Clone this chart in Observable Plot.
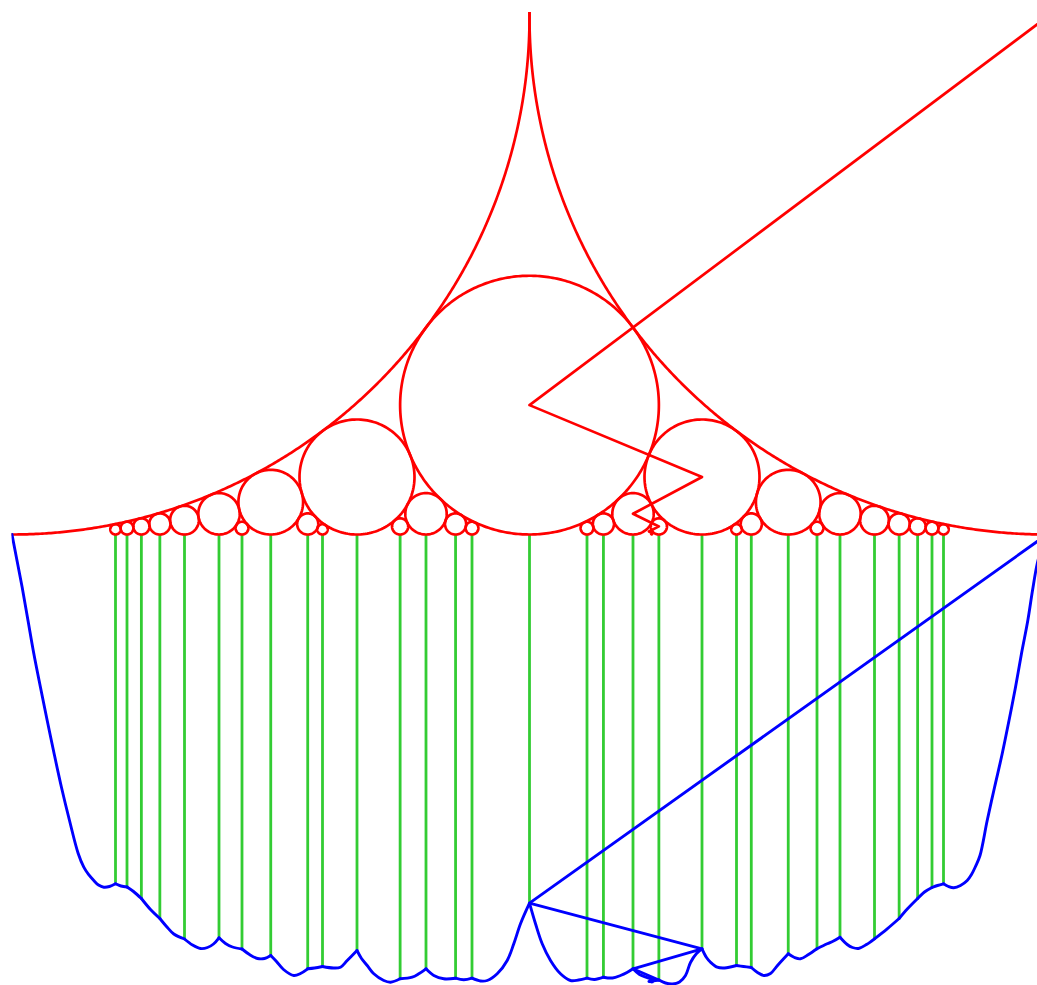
<!DOCTYPE html>
<html>
<head>
<meta charset="utf-8">
<script src="https://cdn.jsdelivr.net/npm/d3@7"></script>
<script src="https://cdn.jsdelivr.net/npm/@observablehq/plot@0.6"></script>
<style>
  html, body { margin: 0; padding: 0; background: white; overflow: hidden; }
  #chart svg { display: block; }
</style>
</head>
<body>
<div id="chart"></div>
<script>
// Ford circles: fractions p/q (Farey sequence of order 10)
const circleP = [0,1,1,1,1,1,1,2,1,2,3,1,3,2,3,4,1,5,4,3,5,2,7,5,3,7,4,5,6,7,8,9,1];
const circleQ = [1,10,9,8,7,6,5,9,4,7,10,3,8,5,7,9,2,9,7,5,8,3,10,7,4,9,5,6,7,8,9,10,1];

// green drop lines: interior fractions and the depth of the blue curve below them
const greenP = [1,1,1,1,1,1,2,1,2,3,1,3,2,3,4,1,5,4,3,5,2,7,5,3,7,4,5,6,7,8,9];
const greenQ = [10,9,8,7,6,5,9,4,7,10,3,8,5,7,9,2,9,7,5,8,3,10,7,4,9,5,6,7,8,9,10];
const greenDepth = [-0.337,-0.341,-0.352,-0.371,-0.391,-0.390,-0.400,-0.407,-0.420,-0.417,
  -0.402,-0.429,-0.420,-0.429,-0.429,-0.356,-0.429,-0.428,-0.420,-0.430,-0.400,-0.416,
  -0.418,-0.405,-0.400,-0.389,-0.391,-0.371,-0.352,-0.341,-0.337];

// convergents of the golden ratio conjugate (zigzag paths)
const zigP = [1,1,2,3,5,8,13,21,34,55];
const zigQ = [1,2,3,5,8,13,21,34,55,89];
const zigBlue = [0,-0.3562,-0.4003,-0.4196,-0.4304,-0.4319,-0.4322,-0.4323,-0.4323,-0.4323];

// blue curve
const blueX = [0,0.00483,0.00986,0.01546,0.02106,0.02754,0.03401,0.04087,0.04783,0.05556,
  0.06396,0.06937,0.07391,0.07903,0.08357,0.0887,0.0942,0.1,0.10531,0.11111,
  0.11739,0.125,0.13382,0.14286,0.14928,0.15633,0.16667,0.1744,0.18213,0.18889,
  0.19469,0.2,0.20628,0.21304,0.22222,0.22947,0.2372,0.24396,0.25,0.25556,
  0.26232,0.27227,0.27874,0.28571,0.29227,0.3,0.31063,0.31739,0.32386,0.33333,
  0.33768,0.34319,0.34957,0.35923,0.3657,0.375,0.38667,0.39304,0.4,0.40754,
  0.4172,0.42857,0.43652,0.44444,0.45266,0.45913,0.46879,0.47845,0.48483,0.4913,
  0.5,0.5058,0.51227,0.52029,0.52995,0.53961,0.54734,0.55556,0.5628,0.57143,
  0.58019,0.58792,0.5942,0.6,0.60628,0.61372,0.61884,0.625,0.6314,0.63816,
  0.64493,0.65072,0.65556,0.66135,0.66667,0.67101,0.67488,0.68135,0.68841,0.7,
  0.70676,0.71429,0.72029,0.72638,0.73285,0.73961,0.75,0.75604,0.76184,0.76957,
  0.77778,0.78763,0.79372,0.8,0.80696,0.81208,0.81787,0.8256,0.83333,0.8456,
  0.85714,0.86522,0.875,0.88164,0.88889,0.8942,0.9,0.90483,0.90995,0.91643,
  0.9229,0.92705,0.93092,0.93527,0.94222,0.94928,0.95671,0.96329,0.96957,0.97536,
  0.98145,0.98599,0.99053,0.99469,1];
const blueY = [0,-0.02512,-0.05121,-0.08309,-0.11498,-0.14783,-0.17971,-0.21256,-0.24444,-0.27633,
  -0.30821,-0.32145,-0.3285,-0.3343,-0.33865,-0.34077,-0.3401,-0.33749,-0.33961,-0.34058,
  -0.34493,-0.35169,-0.36232,-0.37101,-0.37874,-0.38599,-0.39082,-0.39662,-0.4,-0.39903,
  -0.39565,-0.38966,-0.39517,-0.39855,-0.40048,-0.4058,-0.40966,-0.40966,-0.40676,-0.41256,
  -0.42029,-0.42609,-0.42415,-0.41961,-0.41884,-0.41739,-0.41884,-0.41807,-0.41159,-0.40193,
  -0.40966,-0.41643,-0.42444,-0.43092,-0.43256,-0.42928,-0.42773,-0.42444,-0.41961,-0.42609,
  -0.42928,-0.4287,-0.43024,-0.4287,-0.4314,-0.43092,-0.42444,-0.41159,-0.39546,-0.37614,
  -0.35623,-0.37614,-0.39546,-0.41159,-0.42444,-0.43092,-0.43043,-0.4287,-0.42995,-0.42773,
  -0.4285,-0.42609,-0.42319,-0.41961,-0.42512,-0.42802,-0.42947,-0.43043,-0.43333,-0.4343,
  -0.43237,-0.42609,-0.41353,-0.40483,-0.40029,-0.4087,-0.41324,-0.41807,-0.41884,-0.41643,
  -0.41739,-0.41836,-0.42319,-0.42609,-0.42415,-0.41643,-0.40512,-0.4087,-0.40995,-0.4058,
  -0.40029,-0.39546,-0.39275,-0.38908,-0.39614,-0.39903,-0.4,-0.39614,-0.39063,-0.38097,
  -0.37101,-0.36164,-0.35169,-0.34541,-0.34106,-0.33913,-0.33749,-0.3401,-0.34135,-0.33913,
  -0.3343,-0.3285,-0.32077,-0.31014,-0.27633,-0.24444,-0.21188,-0.17971,-0.14754,-0.11498,
  -0.08309,-0.05411,-0.02831,-0.01353,0];

// ---- build mark data from the arrays ----
const circlePts = [];
circleP.forEach((p, i) => {
  const q = circleQ[i];
  const cx = p / q, r = 1 / (2 * q * q), cy = r;
  const n = Math.max(96, Math.ceil(3000 * r));
  for (let k = 0; k <= n; k++) {
    const t = (2 * Math.PI * k) / n;
    circlePts.push({id: i, x: cx + r * Math.cos(t), y: cy + r * Math.sin(t)});
  }
});
const greens = greenP.map((p, i) => ({x: p / greenQ[i], y1: 0, y2: greenDepth[i]}));
const redZig = zigP.map((p, i) => ({x: p / zigQ[i], y: 1 / (2 * zigQ[i] * zigQ[i])}));
const blueZig = zigP.map((p, i) => ({x: p / zigQ[i], y: zigBlue[i]}));

// split the blue curve into smooth pieces at the rational points (cusps)
const cuspXs = greenP.map((p, i) => p / greenQ[i]);
const isCusp = (x) => cuspXs.some((c) => Math.abs(c - x) < 2e-4);
const blueCurve = [];
let seg = 0;
blueX.forEach((x, i) => {
  blueCurve.push({seg, x, y: blueY[i]});
  if (isCusp(x)) { seg++; blueCurve.push({seg, x, y: blueY[i]}); }
});

const chart = Plot.plot({
  width: 1037,
  height: 985,
  marginLeft: 11.5,
  marginRight: 0,
  marginTop: 12,
  marginBottom: 0,
  x: {domain: [0, 1], range: [11.5, 1046.5], axis: null},
  y: {domain: [-0.5, 0.5], range: [1051.5, 16.5], axis: null},
  marks: [
    Plot.ruleX(greens, {x: "x", y1: "y1", y2: "y2", stroke: "#33cc33", strokeWidth: 2.8, clip: true}),
    Plot.line(circlePts, {x: "x", y: "y", z: "id", stroke: "red", strokeWidth: 2.7, clip: true}),
    Plot.line(redZig, {x: "x", y: "y", stroke: "red", strokeWidth: 2.7, clip: true}),
    Plot.line(blueCurve, {x: "x", y: "y", z: "seg", curve: "catmull-rom", stroke: "blue", strokeWidth: 2.9, clip: true}),
    Plot.line(blueZig, {x: "x", y: "y", stroke: "blue", strokeWidth: 2.9, clip: true})
  ]
});
document.getElementById("chart").appendChild(chart);
</script>
</body>
</html>
